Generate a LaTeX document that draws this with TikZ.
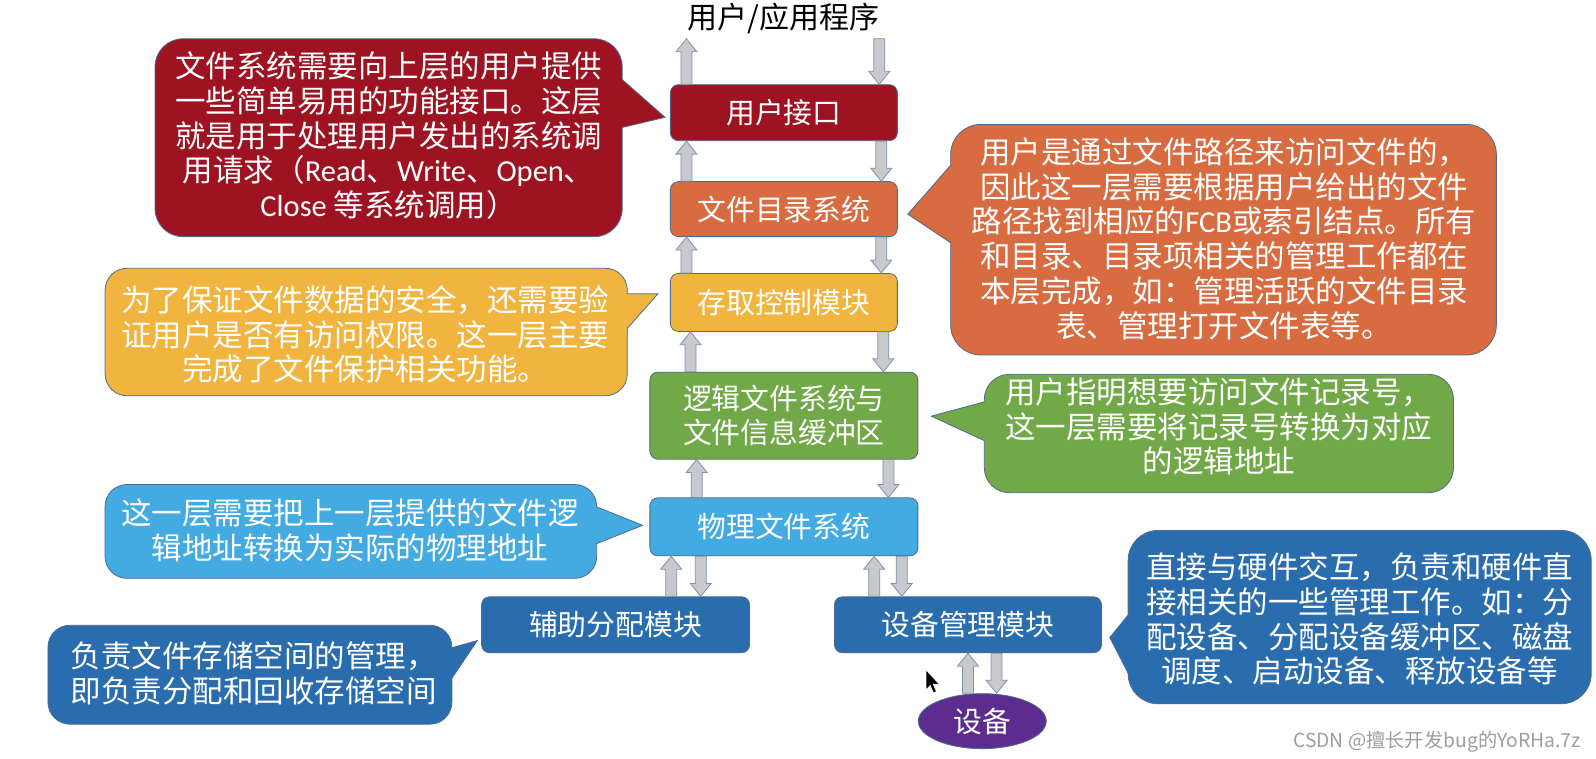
\documentclass[tikz,border=0pt]{standalone}
\usepackage{fontspec}
\setmainfont{Noto Sans CJK SC}
\newfontfamily\lat{Carlito}
\usetikzlibrary{calc,shapes.geometric}
\definecolor{cred}{HTML}{9E1322}
\definecolor{corange}{HTML}{D86B40}
\definecolor{cyellow}{HTML}{F1B53F}
\definecolor{cgreen}{HTML}{71A948}
\definecolor{clblue}{HTML}{44ABE2}
\definecolor{cdblue}{HTML}{2A6DAE}
\definecolor{cpurple}{HTML}{5C2D8E}
\definecolor{cborder}{HTML}{4F6A8C}
\definecolor{cgray}{HTML}{C9C9CD}
\definecolor{cgborder}{HTML}{7F92AC}
\tikzset{
  layer/.style={draw=cborder, line width=0.8pt, rounded corners=8pt, text=white,
    font=\fontsize{28.8}{34.5}\selectfont, align=center, inner sep=0pt},
  ctext/.style={text=white, font=\fontsize{30.5}{34.7}\selectfont, align=center, inner sep=0pt},
  barrowstyle/.style={fill=cgray, draw=cgborder, line width=0.8pt, line join=miter},
}
\newcommand\barrow[3]{%
  \draw[barrowstyle] let \p1=(#1), \p2=(#2), \p3=($(#2)!13pt!(#2 |- #1)$), \p4=(#3,0) in
  (\x4-5.5pt,\y1) -- (\x4-5.5pt,\y3) -- (\x4-10.5pt,\y3) -- (\x4,\y2)
  -- (\x4+10.5pt,\y3) -- (\x4+5.5pt,\y3) -- (\x4+5.5pt,\y1) -- cycle;}
\newcommand\mycallout[8]{%
  \fill[#1, rounded corners=#4] #2 rectangle #3;
  \draw[cborder, line width=0.8pt, rounded corners=#4] #2 rectangle #3;
  \fill[#1] ($#5+#8$) -- #5 -- #6 -- #7 -- ($#7+#8$) -- cycle;
  \draw[cborder, line width=0.8pt, line join=miter] #5 -- #6 -- #7;}
\begin{document}
\begin{tikzpicture}[x=1.02pt,y=-1.02pt]
\useasboundingbox[fill=white] (0,0) rectangle (1564.7,744.1);

% callouts
\mycallout{cred}{(152,38)}{(610,232)}{28pt}{(610,78)}{(652,115)}{(610,125)}{(-5,0)}
\mycallout{corange}{(932,122)}{(1467,348)}{30pt}{(932,162)}{(890,210)}{(932,238)}{(5,0)}
\mycallout{cyellow}{(103,263)}{(615,388)}{22pt}{(615,288)}{(645,288)}{(615,322)}{(-5,0)}
\mycallout{cgreen}{(965,367)}{(1425,483)}{25pt}{(965,394)}{(913,408)}{(965,432)}{(5,0)}
\mycallout{clblue}{(103,475)}{(585,567)}{22pt}{(585,497)}{(630,515)}{(585,533)}{(-5,0)}
\mycallout{cdblue}{(47,613)}{(443,710)}{22pt}{(443,635)}{(468,628)}{(443,665)}{(-5,0)}
\mycallout{cdblue}{(1106,520)}{(1560,690)}{30pt}{(1106,603)}{(1088,625)}{(1106,660)}{(5,0)}

\node[ctext] (t1) at (381,133) {文件系统需要向上层的用户提供\\一些简单易用的功能接口。这层\\就是用于处理用户发出的系统调\\用请求（{\lat Read}、{\lat Write}、{\lat Open}、\\{\lat Close} 等系统调用）};
\node[ctext] (t2) at (1200,234) {用户是通过文件路径来访问文件的，\\因此这一层需要根据用户给出的文件\\路径找到相应的{\lat FCB}或索引结点。所有\\和目录、目录项相关的管理工作都在\\本层完成，如：管理活跃的文件目录\\表、管理打开文件表等。};
\node[ctext] (t3) at (358,328) {为了保证文件数据的安全，还需要验\\证用户是否有访问权限。这一层主要\\完成了文件保护相关功能。};
\node[ctext] (t4) at (1195,418) {用户指明想要访问文件记录号，\\这一层需要将记录号转换为对应\\的逻辑地址};
\node[ctext] (t5) at (343,520) {这一层需要把上一层提供的文件逻\\辑地址转换为实际的物理地址};
\node[ctext, align=left, anchor=west] (t6) at (69,660) {负责文件存储空间的管理，\\即负责分配和回收存储空间};
\node[ctext] (t7) at (1333,607) {直接与硬件交互，负责和硬件直\\接相关的一些管理工作。如：分\\配设备、分配设备缓冲区、磁盘\\调度、启动设备、释放设备等};

% title
\node[font=\fontsize{30}{36}\selectfont, inner sep=0pt] (title) at (768,18) {用户/应用程序};

% layers
\node[layer, fill=cred, minimum width=227pt, minimum height=56pt] (ui) at (768.5,110.5) {用户接口};
\node[layer, fill=corange, minimum width=227pt, minimum height=55pt] (dir) at (768.5,205) {文件目录系统};
\node[layer, fill=cyellow, minimum width=227pt, minimum height=58pt] (acc) at (768.5,296.5) {存取控制模块};
\node[layer, fill=cgreen, minimum width=268pt, minimum height=87pt] (logic) at (768.5,407.5) {逻辑文件系统与\\文件信息缓冲区};
\node[layer, fill=clblue, minimum width=268pt, minimum height=58pt] (phys) at (768.5,516.5) {物理文件系统};
\node[layer, fill=cdblue, minimum width=268pt, minimum height=56pt] (aux) at (603.5,612.5) {辅助分配模块};
\node[layer, fill=cdblue, minimum width=267pt, minimum height=56pt] (dev) at (949,612.5) {设备管理模块};
\node[ellipse, draw=cborder, line width=0.8pt, fill=cpurple, text=white, font=\fontsize{28.8}{34}\selectfont,
  minimum width=128pt, minimum height=55pt, inner sep=0pt] (device) at (963,707) {设备};

% arrows
\coordinate (topL) at (673,38);
\coordinate (topR) at (862,38);
\barrow{ui.north}{topL}{673}
\barrow{topR}{ui.north}{862}
\barrow{dir.north}{ui.south}{673}
\barrow{ui.south}{dir.north}{864}
\barrow{acc.north}{dir.south}{673}
\barrow{dir.south}{acc.north}{864}
\barrow{logic.north}{acc.south}{677}
\barrow{acc.south}{logic.north}{866}
\barrow{phys.north}{logic.south}{683}
\barrow{logic.south}{phys.north}{871}
\barrow{aux.north}{phys.south}{658}
\barrow{phys.south}{aux.north}{687}
\barrow{dev.north}{phys.south}{857}
\barrow{phys.south}{dev.north}{884}
\barrow{device.north}{dev.south}{949}
\barrow{dev.south}{device.north}{977}

% mouse cursor
\filldraw[fill=black, draw=white, line width=0.5pt] (908,657) -- (908,676) -- (912,672) -- (915,679) -- (918,678) -- (915,671) -- (921,671) -- cycle;

% watermark
\node[text=black!38, font=\fontsize{19.3}{21}\selectfont, anchor=east, inner sep=0pt] (wm) at (1550,727) {CSDN @擅长开发bug的YoRHa.7z};
\end{tikzpicture}
\end{document}
